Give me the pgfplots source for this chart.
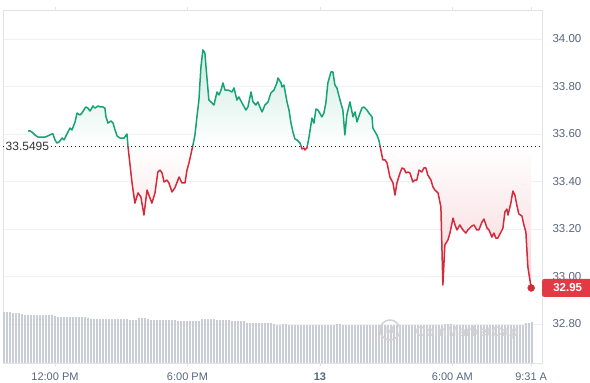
\documentclass[border=0pt]{standalone}
\usepackage{pgfplots}
\pgfplotsset{compat=1.18}
\usepackage{pgfplotstable}
\usepackage{fontspec}
\setmainfont{Liberation Sans}
\definecolor{cmcgreen}{HTML}{16A374}
\definecolor{cmcred}{HTML}{D42A3A}
\definecolor{boxred}{HTML}{E23A45}
\definecolor{ticktext}{HTML}{58667E}
\definecolor{gridc}{HTML}{EFF2F5}
\definecolor{framec}{HTML}{E0E3E8}
\definecolor{volc}{HTML}{C9CDD5}

\pgfplotstableread{
t v
10.78 33.613
10.87 33.613
10.96 33.608
11.05 33.600
11.09 33.596
11.23 33.587
11.41 33.587
11.55 33.587
11.68 33.592
11.86 33.600
11.91 33.600
12.00 33.575
12.09 33.562
12.18 33.566
12.32 33.583
12.41 33.575
12.54 33.600
12.68 33.625
12.77 33.617
12.91 33.651
13.00 33.688
13.13 33.680
13.22 33.688
13.36 33.709
13.40 33.714
13.49 33.709
13.59 33.697
13.72 33.718
13.81 33.709
13.95 33.718
14.04 33.714
14.17 33.714
14.26 33.709
14.31 33.672
14.40 33.646
14.54 33.655
14.63 33.646
14.72 33.617
14.81 33.592
14.94 33.583
15.13 33.583
15.26 33.600
15.305 33.5495
15.31 33.545
15.40 33.469
15.49 33.394
15.62 33.309
15.76 33.352
15.89 33.335
16.03 33.259
16.17 33.364
16.30 33.331
16.39 33.309
16.53 33.352
16.66 33.440
16.76 33.448
16.85 33.436
16.94 33.398
17.07 33.406
17.16 33.394
17.30 33.356
17.43 33.373
17.62 33.419
17.75 33.394
17.89 33.394
17.98 33.448
18.07 33.478
18.20 33.533
18.24 33.5495
18.25 33.554
18.34 33.596
18.43 33.672
18.52 33.743
18.61 33.882
18.70 33.954
18.79 33.941
18.88 33.840
18.97 33.743
19.11 33.731
19.20 33.722
19.34 33.777
19.43 33.764
19.52 33.785
19.61 33.815
19.70 33.785
19.84 33.785
20.02 33.777
20.11 33.794
20.24 33.743
20.33 33.756
20.47 33.731
20.65 33.701
20.74 33.714
20.88 33.777
20.97 33.735
21.10 33.722
21.19 33.735
21.28 33.714
21.38 33.693
21.51 33.722
21.65 33.735
21.78 33.773
21.92 33.785
22.05 33.815
22.10 33.836
22.24 33.815
22.28 33.798
22.37 33.806
22.51 33.735
22.60 33.701
22.69 33.646
22.78 33.608
22.87 33.579
22.96 33.575
23.10 33.562
23.145 33.5495
23.19 33.537
23.28 33.541
23.32 33.533
23.41 33.541
23.43 33.5495
23.50 33.583
23.64 33.667
23.73 33.646
23.82 33.705
23.91 33.701
24.09 33.672
24.18 33.688
24.27 33.731
24.36 33.815
24.50 33.861
24.59 33.861
24.68 33.806
24.77 33.794
24.91 33.743
25.04 33.701
25.13 33.596
25.22 33.680
25.36 33.735
25.50 33.672
25.59 33.693
25.68 33.651
25.77 33.676
25.90 33.709
25.99 33.714
26.13 33.701
26.22 33.688
26.36 33.672
26.40 33.625
26.58 33.596
26.67 33.575
26.725 33.5495
26.76 33.533
26.85 33.491
26.95 33.491
27.04 33.478
27.17 33.419
27.31 33.394
27.40 33.343
27.49 33.394
27.63 33.436
27.72 33.457
27.81 33.453
27.90 33.436
27.99 33.440
28.08 33.436
28.21 33.398
28.30 33.406
28.39 33.406
28.49 33.448
28.62 33.440
28.71 33.457
28.80 33.457
28.89 33.427
29.03 33.406
29.12 33.377
29.21 33.364
29.35 33.352
29.48 33.293
29.57 32.964
29.66 33.133
29.80 33.154
29.89 33.183
30.03 33.246
30.12 33.217
30.21 33.196
30.34 33.217
30.48 33.196
30.61 33.183
30.70 33.196
30.89 33.213
30.98 33.217
31.11 33.196
31.20 33.196
31.34 33.229
31.43 33.242
31.57 33.204
31.66 33.196
31.79 33.166
31.88 33.183
31.97 33.162
32.06 33.162
32.20 33.187
32.29 33.204
32.38 33.272
32.47 33.284
32.52 33.259
32.65 33.309
32.74 33.360
32.83 33.343
32.92 33.301
33.01 33.263
33.15 33.255
33.24 33.217
33.33 33.187
33.42 33.040
33.57 32.952
}\price

\pgfplotstableread[row sep=\\]{h\\
51\\51\\51\\50\\49.5\\49.5\\49\\
48\\48\\48\\48\\47.5\\47.5\\47.5\\48\\47.5\\47.5\\47\\
46\\46\\46\\45.5\\45.5\\45.5\\46\\46\\45.5\\45.5\\45\\
44\\44\\44\\44\\44\\43.5\\44\\44\\44\\44\\
43.5\\43.5\\43.5\\43\\43\\43\\
44.5\\44.5\\44.5\\44\\
43\\43\\42.5\\42.5\\42.5\\42.5\\42.5\\42.5\\42.5\\
42\\42\\42\\42\\42\\42\\42\\42\\
44\\44\\44\\44\\43.5\\
43\\43\\43\\43\\43\\
42\\42\\42\\42\\41.5\\
40\\40\\40\\40\\40\\40\\40\\40\\40\\39\\
38\\38\\38.5\\38.5\\38\\38\\38\\38\\37.5\\37.5\\
38\\38\\38\\38\\38\\38\\38\\38\\38\\38\\
38.5\\38.5\\38\\38\\38\\38\\38\\38\\38\\38\\
38\\38\\38\\38\\38\\38\\38\\38\\38\\38\\
38\\38\\38\\38\\38\\38\\38\\38\\38\\38\\
38\\38\\38\\38\\38\\38\\38.5\\38.5\\38.5\\38\\
38\\38\\38\\38\\38\\38\\38\\38\\38\\38\\
38\\38\\38\\38\\38\\38\\38\\38\\38\\38\\
38\\38\\38\\
40\\40\\41\\
}\volume

\begin{document}
\begin{tikzpicture}
\path[use as bounding box] (-3pt,-20pt) rectangle (587pt,363pt);
\begin{axis}[
  at={(0,0)}, anchor=south west, scale only axis,
  width=539pt, height=353pt,
  xmin=9.645, xmax=34.06, ymin=32.636, ymax=34.122,
  axis line style={framec, line width=0.8pt},
  ytick={32.8,33,33.2,33.4,33.6,33.8,34},
  yticklabel pos=right,
  ymajorgrids, grid style={gridc, line width=0.8pt},
  /pgf/number format/assume math mode=true,
  yticklabel style={/pgf/number format/.cd, fixed, fixed zerofill, precision=2, /tikz/.cd,
     anchor=west, xshift=4pt, font=\fontsize{11.5}{13}\selectfont},
  ytick style={draw=none},
  xtick={12,18,24,30,33.57},
  xticklabels={12:00 PM,6:00 PM,\textbf{13},6:00 AM,9:31 A},
  xticklabel style={yshift=-3pt},
  xtick style={framec, line width=0.8pt},
  tick align=outside, major tick length=3pt,
  tick label style={font=\fontsize{11}{13}\selectfont, text=ticktext},
]
% green area (curve clamped to baseline from below)
\addplot[draw=none, top color=cmcgreen!22, bottom color=white,
   y filter/.expression={max(y,33.5495)}]
   table[x=t,y=v]{\price} -- (axis cs:33.57,33.5495) -- (axis cs:10.78,33.5495) -- cycle;
% red area (curve clamped to baseline from above)
\addplot[draw=none, top color=white, bottom color=cmcred!20,
   y filter/.expression={min(y,33.5495)}]
   table[x=t,y=v]{\price} -- (axis cs:33.57,33.5495) -- (axis cs:10.78,33.5495) -- cycle;
\addplot[black!85, line width=0.9pt, dash pattern=on 0.9pt off 3.1pt] coordinates {(9.645,33.5495) (34.06,33.5495)};
\addplot[cmcgreen, line width=1.5pt, line join=round, unbounded coords=jump,
   restrict y to domain=33.5494:36] table[x=t,y=v]{\price};
\addplot[cmcred, line width=1.5pt, line join=round, unbounded coords=jump,
   restrict y to domain=30:33.5496] table[x=t,y=v]{\price};
\addplot[only marks, mark=*, mark size=3.5pt, cmcred] coordinates {(33.57,32.952)};
\coordinate (boxpos) at (axis cs:34.06,32.952);
\coordinate (basepos) at (axis cs:9.645,33.5495);
\end{axis}
\begin{axis}[
  at={(0,0)}, anchor=south west, scale only axis,
  width=539pt, height=353pt,
  xmin=-0.333, xmax=179.333, ymin=0, ymax=353,
  hide axis,
]
\addplot[ycomb, volc, line width=1.9pt, mark=none] table[x expr=\coordindex, y index=0]{\volume};
\end{axis}
\node[fill=white, inner sep=1.5pt, anchor=west, font=\fontsize{12}{14}\selectfont, text=black!80] at ([xshift=1pt]basepos) {33.5495};
\node[fill=boxred, text=white, font=\bfseries\fontsize{11.5}{13}\selectfont, anchor=west,
      minimum width=51pt, minimum height=18pt, rounded corners=2pt, inner sep=0pt] at (boxpos) {32.95};
\draw[gray!35, line width=1.5pt] (387pt,33pt) circle (10pt);
\node[gray!35, font=\bfseries\fontsize{10}{12}\selectfont] at (387pt,33pt) {M};
\node[gray!35, font=\bfseries\fontsize{14}{16}\selectfont] at (464pt,30pt) {CoinMarketCap};
\end{tikzpicture}
\end{document}
